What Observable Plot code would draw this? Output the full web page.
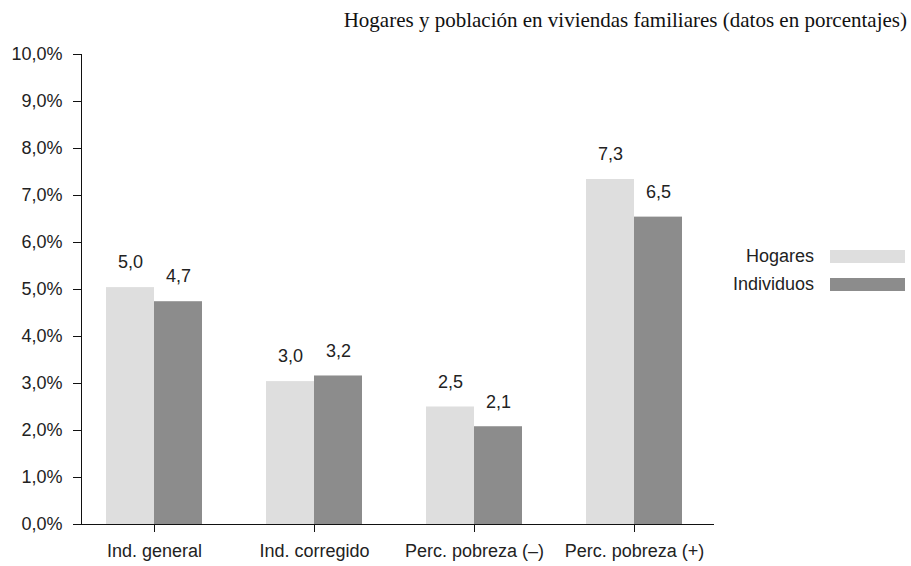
<!DOCTYPE html>
<html>
<head>
<meta charset="utf-8">
<script src="https://cdn.jsdelivr.net/npm/d3@7"></script>
<script src="https://cdn.jsdelivr.net/npm/@observablehq/plot@0.6"></script>
<style>
  body { margin: 0; background: #fff; width: 911px; height: 566px; overflow: hidden; position: relative; }
  #title { height: 36px; box-sizing: border-box; padding-top: 5px; line-height: 30px; text-align: right; padding-right: 4px;
           font-family: "Liberation Serif", "Times New Roman", serif; font-size: 21px; color: #111; white-space: nowrap; }
  #legend { position: absolute; left: 700px; top: 242px; font-family: "Liberation Sans", Arial, sans-serif; font-size: 18px; color: #222; }
  .row { display: flex; align-items: center; height: 28px; }
  .row .lab { width: 114px; text-align: right; }
  .row .sw { width: 75px; height: 13px; margin-left: 16px; }
</style>
</head>
<body>
<div id="title">Hogares y población en viviendas familiares (datos en porcentajes)</div>
<div id="chart"></div>
<div id="legend"></div>
<script>
const categories = ["Ind. general", "Ind. corregido", "Perc. pobreza (–)", "Perc. pobreza (+)"];
const series = ["Hogares", "Individuos"];
const hogares = [5.04, 3.04, 2.50, 7.34];
const individuos = [4.74, 3.16, 2.08, 6.54];
const yTicks = [0, 1, 2, 3, 4, 5, 6, 7, 8, 9, 10];
const colors = ["#dedede", "#8c8c8c"];

const dataH = categories.map((c, i) => ({cat: c, value: hogares[i]}));
const dataI = categories.map((c, i) => ({cat: c, value: individuos[i]}));
const fmt = v => v.toFixed(1).replace(".", ",");

const chart = Plot.plot({
  width: 911,
  height: 530,
  marginLeft: 81,
  marginRight: 197,
  marginTop: 18,
  marginBottom: 42,
  style: {fontFamily: "Liberation Sans, Arial, sans-serif", fontSize: "18px", color: "#222", background: "#fff"},
  x: {domain: categories, range: [73, 714], paddingInner: 0.4, paddingOuter: 0.2, label: null},
  y: {domain: [0, 10], label: null},
  marks: [
    Plot.barY(dataH, {x: "cat", y: "value", fill: colors[0], insetRight: 48}),
    Plot.barY(dataI, {x: "cat", y: "value", fill: colors[1], insetLeft: 48}),
    Plot.text(dataH, {x: "cat", y: "value", text: d => fmt(d.value), dx: -24, dy: -25, fill: "#222"}),
    Plot.text(dataI, {x: "cat", y: "value", text: d => fmt(d.value), dx: 24, dy: -25, fill: "#222"}),
    Plot.axisY({ticks: yTicks, tickSize: 8, tickPadding: 11, tickFormat: d => fmt(d) + "%", label: null, stroke: "#111"}),
    Plot.axisX({tickSize: 8, tickPadding: 12, label: null, stroke: "#111"}),
    Plot.frame({anchor: "left", stroke: "#111"}),
    Plot.ruleY([0], {insetLeft: -8, stroke: "#111"})
  ]
});
document.getElementById("chart").appendChild(chart);

const legend = document.getElementById("legend");
series.forEach((s, i) => {
  const row = document.createElement("div");
  row.className = "row";
  const lab = document.createElement("div");
  lab.className = "lab";
  lab.textContent = s;
  const sw = document.createElement("div");
  sw.className = "sw";
  sw.style.background = colors[i];
  row.appendChild(lab);
  row.appendChild(sw);
  legend.appendChild(row);
});
</script>
</body>
</html>
